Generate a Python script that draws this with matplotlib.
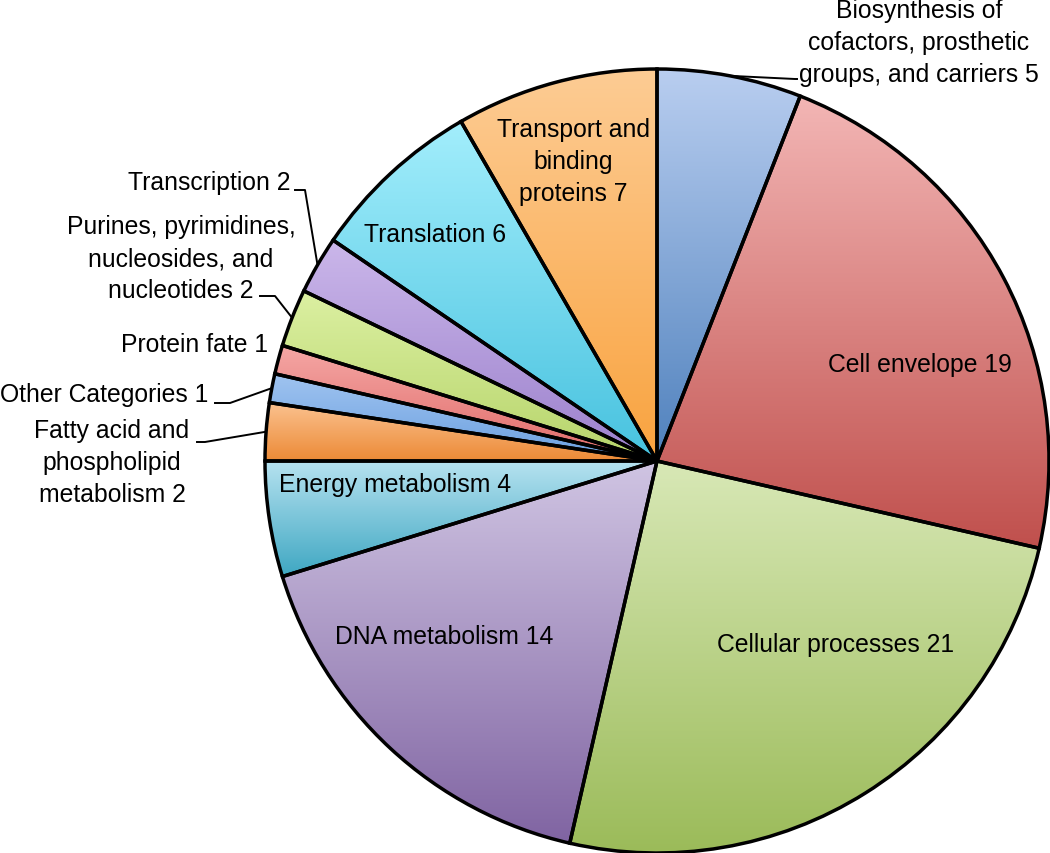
import numpy as np
import matplotlib
matplotlib.use("Agg")
import matplotlib.pyplot as plt
from matplotlib.colors import to_rgb

# ---- data ----
categories = [
    "Biosynthesis of\ncofactors, prosthetic\ngroups, and carriers",
    "Cell envelope",
    "Cellular processes",
    "DNA metabolism",
    "Energy metabolism",
    "Fatty acid and\nphospholipid\nmetabolism",
    "Other Categories",
    "Protein fate",
    "Purines, pyrimidines,\nnucleosides, and\nnucleotides",
    "Transcription",
    "Translation",
    "Transport and\nbinding\nproteins",
]
counts = [5, 19, 21, 14, 4, 2, 1, 1, 2, 2, 6, 7]

# gradient colours (top, bottom) per slice
top_colors = ["#b9cef0", "#f3b6b5", "#d8e8b6", "#d0c5e3", "#b6e2f0", "#fbc290",
              "#a0c4f0", "#f5a7a5", "#dcf0a2", "#cbb7ea", "#a3eefc", "#fdcc94"]
bottom_colors = ["#4f81bd", "#c0504d", "#9bbb59", "#8064a2", "#3ea7c2", "#ec8a36",
                 "#6a9fe0", "#e06a68", "#b6d46a", "#9b80cc", "#47c2df", "#f9a33f"]

# ---- layout (pixel space, y up) ----
W, H = 1050, 854
CX, CY, R = 657, 392, 392
FS = 17.8

# (x, y, ha) for each label; leader = (elbow, end) or None
label_pos = [
    (919, 811, "center"), (920, 489, "center"), (836, 209, "center"),
    (444, 217, "center"), (395, 369, "center"), (112, 391, "center"),
    (208, 459, "right"), (268, 509, "right"), (181, 595, "center"),
    (290, 671, "right"), (435, 619, "center"), (573, 692, "center"),
]
leaders = [
    ((795, 774), (797, 774)), None, None, None, None,
    ((205, 411), (197, 411)),
    ((230, 450), (215, 450)), None,
    ((275, 557), (260, 557)),
    ((305, 663), (295, 663)), None, None,
]

plt.rcParams["font.family"] = ["Liberation Sans", "DejaVu Sans"]

fig = plt.figure(figsize=(W / 100, H / 100), dpi=100)
ax = fig.add_axes([0, 0, 1, 1])

wedges, _ = ax.pie(counts, startangle=90, counterclock=False, radius=R,
                   center=(CX, CY),
                   wedgeprops=dict(facecolor="none", edgecolor="black",
                                   linewidth=2.5, zorder=3))

for w, c_top, c_bot in zip(wedges, top_colors, bottom_colors):
    path = w.get_patch_transform().transform_path(w.get_path())
    ext = path.get_extents()
    t = np.linspace(0, 1, 256)[:, None]
    grad = (1 - t) * np.array(to_rgb(c_top)) + t * np.array(to_rgb(c_bot))
    img = ax.imshow(grad[:, None, :], extent=(ext.x0, ext.x1, ext.y0, ext.y1),
                    origin="upper", aspect="auto", interpolation="bilinear",
                    zorder=2)
    img.set_clip_path(w)

for i, (w, name, n) in enumerate(zip(wedges, categories, counts)):
    x, y, ha = label_pos[i]
    ax.text(x, y, f"{name} {n}", ha=ha, va="center", fontsize=FS,
            linespacing=1.4, multialignment="center", zorder=5)
    if leaders[i] is not None:
        mid = np.deg2rad((w.theta1 + w.theta2) / 2)
        ex, ey = CX + R * np.cos(mid), CY + R * np.sin(mid)
        (bx, by), (tx, ty) = leaders[i]
        ax.plot([ex, bx, tx], [ey, by, ty], color="black", lw=1.4, zorder=1)

ax.set_xlim(0, W)
ax.set_ylim(0, H)
ax.set_aspect("equal")
ax.axis("off")

fig.savefig("out.png", dpi=100, facecolor="white")
